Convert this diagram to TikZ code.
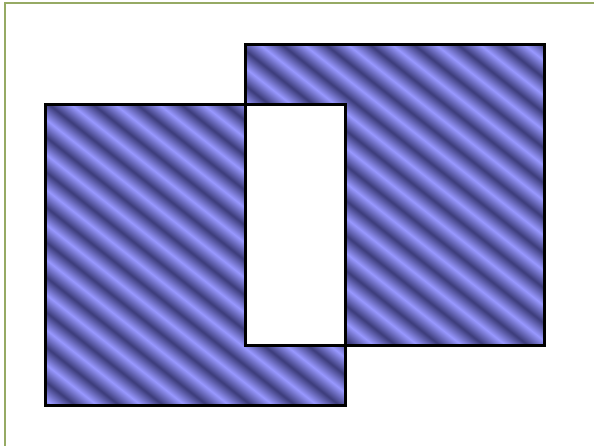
\documentclass[tikz,border=0pt]{standalone}
\definecolor{stripeL}{RGB}{152,152,255}
\definecolor{stripeD}{RGB}{60,60,122}
\definecolor{frameol}{RGB}{150,170,100}
\pgfdeclarehorizontalshading{stripetile}{1200bp}{color(0bp)=(stripeL); color(13.7bp)=(stripeD); color(27.4bp)=(stripeL)}
\tikzset{
  squareline/.style={draw=black, line width=3bp, line join=miter},
  frameline/.style={draw=frameol, line width=2bp},
}
\begin{document}
\begin{tikzpicture}[x=1bp,y=-1bp]
\useasboundingbox (0,0) rectangle (594,446);
\coordinate (fa) at (4.5,446);
\coordinate (fb) at (4.5,3.5);
\coordinate (fc) at (594,3.5);
\draw[frameline] (fa) -- (fb) -- (fc);
\coordinate (la) at (45,105);
\coordinate (lb) at (345,405);
\coordinate (ra) at (245,45);
\coordinate (rb) at (544,345);
\coordinate (phase) at (73,106);
\begin{scope}[even odd rule]
  \clip (la) rectangle (lb) (ra) rectangle (rb);
  \fill[stripeL] (la) rectangle (lb) (ra) rectangle (rb);
  \begin{scope}[shift={(phase)}, rotate=51.5, transform shape]
    \foreach \k in {-32,...,32}
      \node[inner sep=0pt, outer sep=0pt, anchor=south west] (tile\k) at (\k*27.4bp,-600bp) {\pgfuseshading{stripetile}};
  \end{scope}
\end{scope}
\draw[squareline] (la) rectangle (lb);
\draw[squareline] (ra) rectangle (rb);
\end{tikzpicture}
\end{document}
